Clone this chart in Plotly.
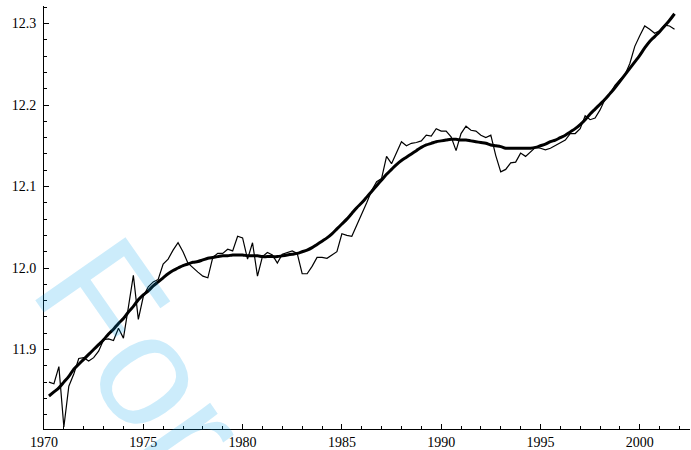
import plotly.graph_objects as go

# quarterly observations, 1970.25 .. 2001.75
start_year = 1970.25
raw_values = [
    11.860, 11.858, 11.879, 11.805, 11.855, 11.870, 11.889, 11.890, 11.886, 11.890,
    11.898, 11.912, 11.913, 11.911, 11.926, 11.914, 11.952, 11.991, 11.937, 11.965,
    11.977, 11.983, 11.986, 12.005, 12.011, 12.022, 12.031, 12.020, 12.006, 12.000,
    11.995, 11.990, 11.988, 12.013, 12.018, 12.018, 12.023, 12.021, 12.039, 12.037,
    12.011, 12.031, 11.990, 12.014, 12.019, 12.016, 12.006, 12.017, 12.019, 12.021,
    12.018, 11.993, 11.993, 12.002, 12.013, 12.013, 12.012, 12.016, 12.020, 12.042,
    12.040, 12.039, 12.052, 12.066, 12.080, 12.095, 12.106, 12.110, 12.137, 12.128,
    12.141, 12.155, 12.150, 12.153, 12.154, 12.156, 12.163, 12.162, 12.171, 12.168,
    12.168, 12.161, 12.144, 12.165, 12.174, 12.169, 12.168, 12.163, 12.160, 12.163,
    12.138, 12.118, 12.121, 12.129, 12.130, 12.141, 12.137, 12.142, 12.148, 12.147,
    12.145, 12.147, 12.150, 12.153, 12.157, 12.165, 12.165, 12.171, 12.187, 12.182,
    12.184, 12.194, 12.207, 12.214, 12.224, 12.231, 12.237, 12.251, 12.272, 12.285,
    12.297, 12.293, 12.288, 12.291, 12.298, 12.297, 12.293,
]
trend_values = [
    11.843, 11.848, 11.853, 11.860, 11.867, 11.876, 11.882, 11.888, 11.894, 11.900,
    11.906, 11.912, 11.919, 11.925, 11.932, 11.938, 11.946, 11.953, 11.961, 11.967,
    11.972, 11.978, 11.983, 11.988, 11.993, 11.997, 12.000, 12.003, 12.005, 12.007,
    12.008, 12.010, 12.012, 12.013, 12.014, 12.015, 12.015, 12.016, 12.016, 12.016,
    12.015, 12.015, 12.015, 12.014, 12.014, 12.014, 12.014, 12.015, 12.016, 12.017,
    12.018, 12.020, 12.022, 12.025, 12.029, 12.033, 12.037, 12.042, 12.048, 12.054,
    12.060, 12.067, 12.074, 12.080, 12.087, 12.094, 12.101, 12.108, 12.115, 12.121,
    12.127, 12.132, 12.136, 12.140, 12.144, 12.148, 12.151, 12.153, 12.155, 12.156,
    12.157, 12.158, 12.158, 12.157, 12.157, 12.156, 12.155, 12.154, 12.153, 12.151,
    12.150, 12.149, 12.147, 12.147, 12.147, 12.147, 12.147, 12.147, 12.148, 12.150,
    12.152, 12.155, 12.157, 12.160, 12.163, 12.167, 12.171, 12.176, 12.182, 12.189,
    12.195, 12.201, 12.207, 12.214, 12.221, 12.229, 12.237, 12.245, 12.253, 12.261,
    12.270, 12.278, 12.284, 12.290, 12.297, 12.304, 12.312,
]
x_tick_values = [1970, 1975, 1980, 1985, 1990, 1995, 2000]
x_tick_labels = ["1970", "1975", "1980", "1985", "1990", "1995", "2000"]
y_tick_values = [11.9, 12.0, 12.1, 12.2, 12.3]
y_tick_labels = ["11.9", "12.0", "12.1", "12.2", "12.3"]
watermark_text = "For"

times = [start_year + 0.25 * i for i in range(len(raw_values))]

fig = go.Figure()
fig.add_trace(go.Scatter(x=times, y=raw_values, mode="lines",
                         line=dict(color="black", width=1.2), showlegend=False))
fig.add_trace(go.Scatter(x=times, y=trend_values, mode="lines",
                         line=dict(color="black", width=3, shape="spline"),
                         showlegend=False))

fig.add_annotation(text=watermark_text, xref="paper", yref="paper",
                   x=0.151, y=0.173, xanchor="center", yanchor="middle",
                   showarrow=False, textangle=55,
                   font=dict(family="Liberation Sans", size=160,
                             color="rgba(0,160,235,0.2)"))

tick_font = dict(family="Liberation Serif", size=14, color="black")
fig.update_xaxes(range=[1970, 2002.53], tickvals=x_tick_values, ticktext=x_tick_labels,
                 showgrid=False, zeroline=False, showline=True, linecolor="black",
                 linewidth=1, ticks="inside", ticklen=5, tickcolor="black",
                 tickfont=tick_font,
                 minor=dict(dtick=1, tick0=1970, ticks="inside", ticklen=3,
                            tickcolor="black", showgrid=False))
fig.update_yaxes(range=[11.8025, 12.3215], tickvals=y_tick_values, ticktext=y_tick_labels,
                 showgrid=False, zeroline=False, showline=True, linecolor="black",
                 linewidth=1, ticks="inside", ticklen=5, tickcolor="black",
                 tickfont=tick_font, ticklabelstandoff=4,
                 minor=dict(dtick=0.02, tick0=11.8, ticks="inside", ticklen=3,
                            tickcolor="black", showgrid=False))
fig.update_layout(width=691, height=450, margin=dict(l=44, r=1, t=6, b=21),
                  plot_bgcolor="white", paper_bgcolor="white")
fig.write_html("out.html", config={"displayModeBar": False, "staticPlot": True},
               post_script="document.body.style.margin='0';document.body.style.overflow='hidden';")
